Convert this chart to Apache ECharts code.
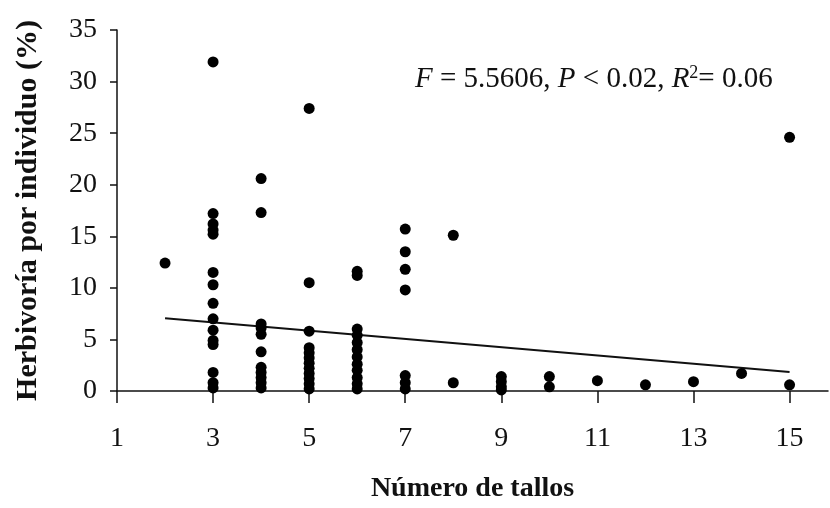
<!DOCTYPE html>
<html><head><meta charset="utf-8">
<script src="https://cdn.jsdelivr.net/npm/echarts@6/dist/echarts.min.js"></script>
<style>html,body{margin:0;padding:0;background:#fff}#c{width:830px;height:508px}</style>
</head><body><div id="c"></div>
<script>
// Data
const stems = [2,
  3,3,3,3,3,3,3,3,3,3,3,3,3,3,3,
  4,4,4,4,4,4,4,4,4,4,4,
  5,5,5,5,5,5,5,5,5,5,5,5,
  6,6,6,6,6,6,6,6,6,6,6,6,
  7,7,7,7,7,7,7,
  8,8,
  9,9,9,9,
  10,10,
  11,12,13,14,
  15,15];
const herbivory = [12.4,
  31.9,17.2,16.2,15.6,15.2,11.5,10.3,8.5,7.0,5.9,4.9,4.5,1.8,0.8,0.3,
  20.6,17.3,6.5,6.1,5.5,3.8,2.3,1.8,1.3,0.8,0.3,
  27.4,10.5,5.8,4.2,3.7,3.2,2.7,2.2,1.7,1.2,0.7,0.2,
  11.6,11.2,6.0,5.4,4.7,4.0,3.3,2.6,2.0,1.3,0.7,0.2,
  15.7,13.5,11.8,9.8,1.5,0.8,0.2,
  15.1,0.8,
  1.4,0.9,0.4,0.1,
  1.4,0.4,
  1.0,0.6,0.9,1.7,
  24.6,0.6];
const fitX = [2, 15];
const fitY = [7.05, 1.85];
const xTicks = [1,3,5,7,9,11,13,15];
const yTicks = [0,5,10,15,20,25,30,35];
const xName = 'Número de tallos';
const yName = 'Herbivoría por individuo (%)';

const serif = '"Liberation Serif", "DejaVu Serif", serif';
const chart = echarts.init(document.getElementById('c'));
chart.setOption({
  animation: false,
  backgroundColor: '#fff',
  grid: {left: 117, right: 2, top: 30, bottom: 116},
  xAxis: {
    type: 'value', min: 1, max: 15.8,
    name: xName, nameLocation: 'middle', nameGap: 84,
    nameTextStyle: {fontFamily: serif, fontSize: 28, fontWeight: 'bold', color: '#111'},
    axisLine: {show: true, onZero: false, lineStyle: {color: '#111', width: 1.5}},
    axisTick: {show: true, inside: false, length: 12, customValues: xTicks, lineStyle: {color: '#111', width: 1.5}},
    axisLabel: {customValues: xTicks, margin: 34, fontFamily: serif, fontSize: 28, color: '#111'},
    splitLine: {show: false}
  },
  yAxis: {
    type: 'value', min: 0, max: 35, interval: 5,
    name: yName, nameLocation: 'middle', nameGap: 74,
    nameTextStyle: {fontFamily: serif, fontSize: 30, fontWeight: 'bold', color: '#111'},
    axisLine: {show: true, lineStyle: {color: '#111', width: 1.5}},
    axisTick: {show: true, length: 7, customValues: yTicks, lineStyle: {color: '#111', width: 1.5}},
    axisLabel: {customValues: yTicks, margin: 20, fontFamily: serif, fontSize: 28, color: '#111'},
    splitLine: {show: false}
  },
  graphic: [{
    type: 'text', left: 415, top: 64,
    style: {
      rich: {
        n: {fontFamily: serif, fontSize: 29, fill: '#111'},
        i: {fontFamily: serif, fontSize: 29, fontStyle: 'italic', fill: '#111'},
        s: {fontFamily: serif, fontSize: 18, fill: '#111', verticalAlign: 'top', padding: [0,0,12,0]}
      },
      text: '{i|F}{n| = 5.5606, }{i|P}{n| < 0.02, }{i|R}{s|2}{n|= 0.06}'
    }
  }],
  series: [{
    type: 'scatter', symbol: 'circle', symbolSize: 11,
    itemStyle: {color: '#000', opacity: 1},
    data: stems.map((x, i) => [x, herbivory[i]]),
    z: 3
  }, {
    type: 'line', showSymbol: false, symbol: 'none',
    lineStyle: {color: '#111', width: 2},
    data: fitX.map((x, i) => [x, fitY[i]]),
    z: 2
  }]
});
</script></body></html>
